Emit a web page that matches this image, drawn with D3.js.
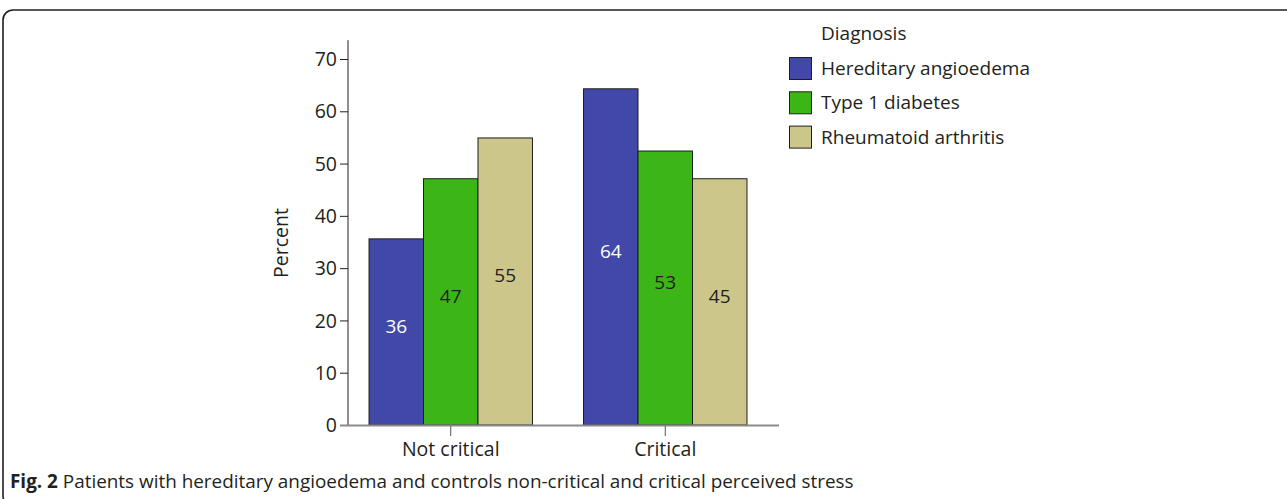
<!DOCTYPE html>
<html>
<head>
<meta charset="utf-8">
<script src="https://cdn.jsdelivr.net/npm/d3@7"></script>
<style>
  html, body { margin: 0; padding: 0; background: #fff; }
  svg { display: block; }
  text { font-family: "Open Sans", "Noto Sans", sans-serif; fill: #231f20; }
</style>
</head>
<body>
<svg id="chart" width="1287" height="499"></svg>
<script>
// ---- data ----
const categories = ["Not critical", "Critical"];
const seriesNames = ["Hereditary angioedema", "Type 1 diabetes", "Rheumatoid arthritis"];
const haeValues = [35.6, 64.3];
const t1dValues = [47.1, 52.4];
const raValues  = [54.9, 47.1];
const haeLabels = ["36", "64"];
const t1dLabels = ["47", "53"];
const raLabels  = ["55", "45"];
const yTicks = [0, 10, 20, 30, 40, 50, 60, 70];
const legendTitle = "Diagnosis";
const yTitle = "Percent";
const captionBold = "Fig. 2";
const captionText = " Patients with hereditary angioedema and controls non-critical and critical perceived stress";

const colors = ["#4248a8", "#3cb616", "#cdc68a"];
const labelColors = ["#ffffff", "#231f20", "#231f20"];

const seriesValues = [haeValues, t1dValues, raValues];
const seriesLabels = [haeLabels, t1dLabels, raLabels];

const svg = d3.select("#chart");

// frame
svg.append("rect")
  .attr("x", 3).attr("y", 10)
  .attr("width", 1300).attr("height", 496)
  .attr("rx", 10).attr("ry", 10)
  .attr("fill", "none").attr("stroke", "#231f20").attr("stroke-width", 1.6);

// scales
const y = d3.scaleLinear().domain([0, 70]).range([425, 59]);
const x0 = d3.scaleBand().domain(categories).range([348, 768]).paddingInner(0.238).paddingOuter(0.098);
const x1 = d3.scaleBand().domain(seriesNames).range([0, x0.bandwidth()]);

// bars
categories.forEach((cat, ci) => {
  const g = svg.append("g").attr("transform", `translate(${x0(cat)},0)`);
  seriesNames.forEach((s, si) => {
    const v = seriesValues[si][ci];
    g.append("rect")
      .attr("x", x1(s)).attr("y", y(v))
      .attr("width", x1.bandwidth()).attr("height", y(0) - y(v))
      .attr("fill", colors[si]).attr("stroke", "#1e1e1e").attr("stroke-width", 1);
    g.append("text")
      .attr("x", x1(s) + x1.bandwidth() / 2)
      .attr("y", (y(v) + y(0)) / 2 + 1)
      .attr("text-anchor", "middle")
      .style("font-size", "19px")
      .style("fill", labelColors[si])
      .text(seriesLabels[si][ci]);
  });
});

// y axis
const yAxis = svg.append("g").attr("transform", "translate(348,0)")
  .call(d3.axisLeft(y).tickValues(yTicks).tickSize(8).tickPadding(3).tickSizeOuter(0));
yAxis.select(".domain").remove();
yAxis.append("line").attr("x1", 0).attr("x2", 0).attr("y1", y(73.6)).attr("y2", y(0))
  .attr("stroke", "#231f20").attr("stroke-width", 1);
yAxis.selectAll(".tick line").attr("stroke", "#231f20");
yAxis.selectAll(".tick text").style("font-size", "19.5px").style("fill", "#231f20")
  .style("font-family", "'Open Sans', sans-serif").attr("dy", "0.34em");

// x axis
svg.append("line").attr("x1", 340).attr("x2", 779).attr("y1", y(0) + 0.5).attr("y2", y(0) + 0.5)
  .attr("stroke", "#8a8a8a").attr("stroke-width", 2);
const xAxis = svg.append("g").attr("transform", `translate(0,${y(0) + 1})`)
  .call(d3.axisBottom(x0).tickSize(10).tickPadding(6).tickSizeOuter(0));
xAxis.select(".domain").remove();
xAxis.selectAll(".tick line").attr("stroke", "#555");
xAxis.selectAll(".tick text").style("font-size", "19.5px").style("fill", "#231f20")
  .style("font-family", "'Open Sans', sans-serif");

// y title
svg.append("text")
  .attr("transform", "translate(288,243) rotate(-90)")
  .attr("text-anchor", "middle")
  .style("font-size", "19.5px")
  .text(yTitle);

// legend
svg.append("text").attr("x", 821).attr("y", 40).style("font-size", "19px").text(legendTitle);
seriesNames.forEach((s, i) => {
  const top = 57.5 + i * 34.3;
  svg.append("rect").attr("x", 789.5).attr("y", top).attr("width", 22).attr("height", 22)
    .attr("fill", colors[i]).attr("stroke", "#1e1e1e").attr("stroke-width", 1);
  svg.append("text").attr("x", 821).attr("y", top + 17.5).style("font-size", "19px").text(s);
});

// caption
const cap = svg.append("text").attr("x", 10).attr("y", 488).style("font-size", "18.9px");
cap.append("tspan").style("font-weight", "bold").text(captionBold);
cap.append("tspan").text(captionText);
</script>
</body>
</html>
